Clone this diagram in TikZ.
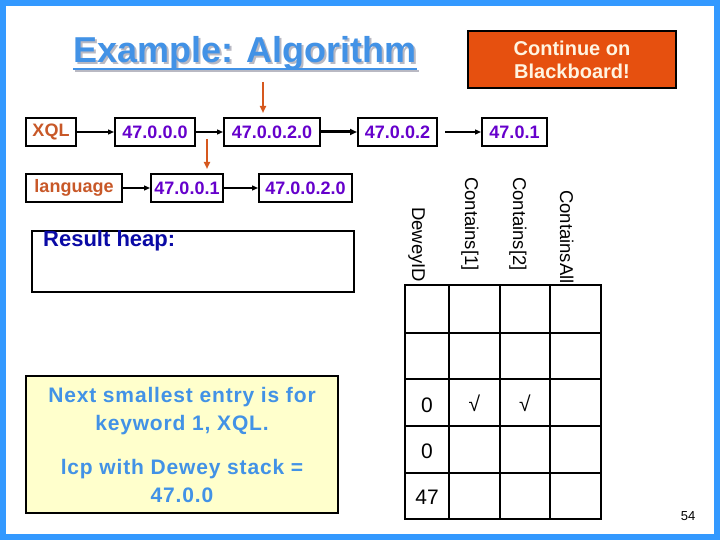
\documentclass[tikz,border=0pt]{standalone}
\usepackage{fontspec}
\setmainfont{Liberation Sans}
\newfontfamily\spacedfont[LetterSpace=4]{Liberation Sans}
\usetikzlibrary{arrows.meta}
\definecolor{frameblue}{RGB}{51,153,255}
\definecolor{titleblue}{RGB}{66,146,230}
\definecolor{shadowgray}{RGB}{185,185,195}
\definecolor{boardorange}{RGB}{230,80,15}
\definecolor{boardtext}{RGB}{255,244,225}
\definecolor{pointer}{RGB}{214,88,30}
\definecolor{keyword}{RGB}{200,88,40}
\definecolor{dewey}{RGB}{102,0,204}
\definecolor{heapblue}{RGB}{10,10,165}
\definecolor{noteyellow}{RGB}{255,255,204}
\newcommand\pxfont[2]{\fontsize{#1}{#2}\selectfont}

\begin{document}
\begin{tikzpicture}[x=1pt,y=-1pt,
    listbox/.style={draw, line width=2pt, fill=white, minimum height=28pt, inner sep=0pt, text=dewey, font=\pxfont{18}{21}\bfseries},
    link/.style={-{Triangle[length=6pt,width=5pt]}, line width=1.3pt},
    cursor/.style={-{Triangle[length=7pt,width=6pt]}, pointer, line width=1.8pt, shorten >=4pt},
    header/.style={rotate=-90, anchor=base west, inner sep=0pt, font=\pxfont{18.5}{21}},
    cell/.style={inner sep=0pt, font=\pxfont{21}{24}}]
    \useasboundingbox (0,0) rectangle (720,540);
    \fill[white] (0,0) rectangle (720,540);
    \draw[frameblue, line width=6pt] (3,3) rectangle (717,537);

    % title with shadow
    \node[anchor=base west, inner sep=0pt, text=shadowgray, font=\pxfont{36}{40}\bfseries] (titleshadow) at (75,65) {Example: Algorithm};
    \draw[shadowgray, line width=2.5pt] ([yshift=-6pt]titleshadow.base west) -- ([yshift=-6pt]titleshadow.base east);
    \node[anchor=base west, inner sep=0pt, text=titleblue, font=\pxfont{36}{40}\bfseries] (title) at (73,63) {Example: Algorithm};
    \draw[titleblue, line width=2.5pt] ([yshift=-6pt]title.base west) -- ([yshift=-6pt]title.base east);

    \node[draw, line width=2pt, fill=boardorange, text=boardtext, minimum width=208pt, minimum height=57pt, align=center, font=\pxfont{20}{23}\bfseries] (board) at (572,59.5) {Continue on\\Blackboard!};

    % inverted lists
    \node[listbox, minimum width=50pt, text=keyword] (xql) at (51,132) {XQL};
    \node[listbox, minimum width=80pt] (d0000) at (155,132) {47.0.0.0};
    \node[listbox, minimum width=96pt] (d00020) at (272,132) {47.0.0.2.0};
    \node[listbox, minimum width=79pt] (d002) at (397.5,132) {47.0.0.2};
    \node[listbox, minimum width=65pt] (d01) at (514.5,132) {47.0.1};

    \node[listbox, minimum width=96pt, text=keyword] (lang) at (74,188) {language};
    \node[listbox, minimum width=72pt] (d001) at (187,188) {47.0.0.1};
    \node[listbox, minimum width=93pt] (d00020b) at (305.5,188) {47.0.0.2.0};

    \draw[link] (xql) -- (d0000);
    \draw[link] (d0000) -- (d00020);
    \draw[link, line width=3pt, -{Triangle[length=7pt,width=6pt]}] (d00020) -- (d002);
    \draw[link, shorten <=7pt] (d002) -- (d01);
    \draw[link] (lang) -- (d001);
    \draw[link] (d001) -- (d00020b);

    \coordinate (cur1) at (263,82);
    \coordinate (cur2) at (207,139);
    \draw[cursor] (cur1) -- (cur1 |- d00020.north);
    \draw[cursor] (cur2) -- (cur2 |- d001.north);

    \node[draw, line width=2pt, minimum width=322pt, minimum height=61pt] (heap) at (193,261.5) {};
    \node[anchor=base west, inner sep=0pt, text=heapblue, font=\pxfont{22}{26}\bfseries] (heaplabel) at (43,247) {Result heap:};

    \node[draw, line width=2pt, fill=noteyellow, minimum width=312pt, minimum height=137pt, align=center, text=titleblue, font=\spacedfont\pxfont{21}{28}\bfseries] (note) at (182,444.5) {Next smallest entry is for\\keyword 1, XQL.\\[16pt]lcp with Dewey stack =\\47.0.0};

    % Dewey stack table
    \node[header] (hdewey) at (412,207) {DeweyID};
    \node[header] (hcont1) at (465,177) {Contains[1]};
    \node[header] (hcont2) at (513,177) {Contains[2]};
    \node[header] (hall) at (560,190) {ContainsAll};

    \foreach \x in {449,500,550}
        \draw[line width=2pt] (\x,285) -- (\x,519);
    \foreach \y in {333,379,426,473}
        \draw[line width=2pt] (405,\y) -- (601,\y);
    \draw[line width=2.5pt] (405,285) rectangle (601,519);

    \node[cell] (r3c1) at (427,405) {0};
    \node[cell] (r3c2) at (474.5,403) {√};
    \node[cell] (r3c3) at (525,403) {√};
    \node[cell] (r4c1) at (427,451) {0};
    \node[cell] (r5c1) at (427,497.5) {47};

    \node[font=\pxfont{13}{15}] (pagenum) at (688,516) {54};
\end{tikzpicture}
\end{document}
